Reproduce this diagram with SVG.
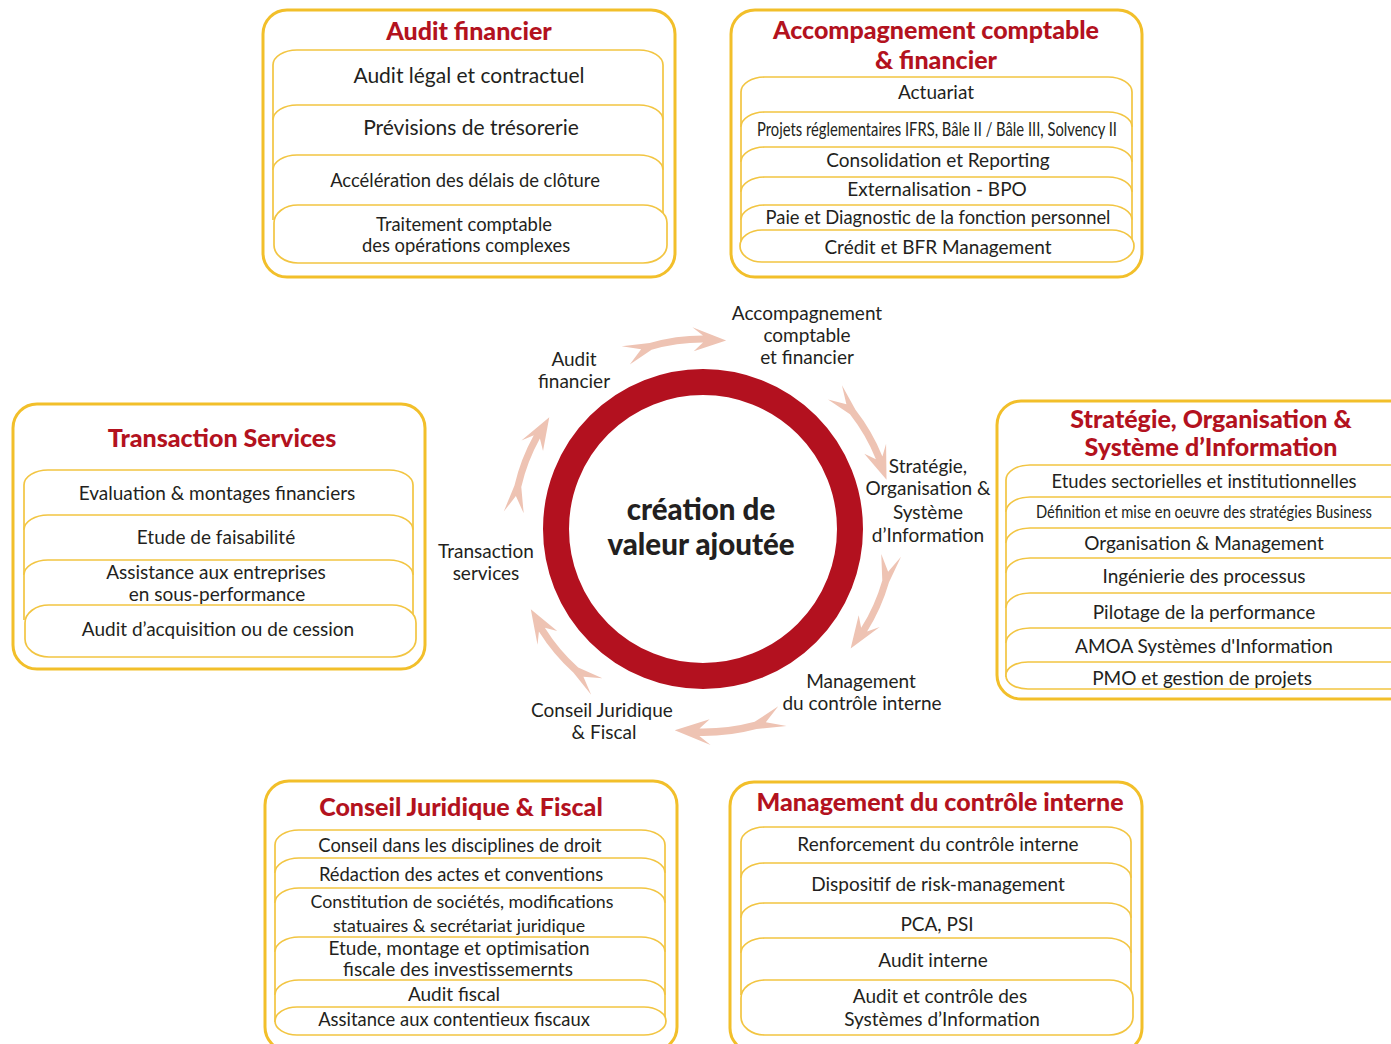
<svg xmlns="http://www.w3.org/2000/svg" xmlns:xlink="http://www.w3.org/1999/xlink" width="1391" height="1044" viewBox="0 0 1391 1044">
  <style>
    .outer { fill: #fff; stroke: #F2BF2A; stroke-width: 3; }
    .item { fill: #fff; stroke: #F2C542; stroke-width: 1.7; }
    .title { font-family: Lato, "Liberation Sans", sans-serif; font-weight: 900; font-size: 25px; fill: #B3121E; text-anchor: middle; }
    .txt { font-family: Lato, "Liberation Sans", sans-serif; font-size: 19px; fill: #231F20; text-anchor: middle; }
    .sm { font-size: 18.4px; }
    .lg { font-size: 21px; }
    .hub { font-family: Lato, "Liberation Sans", sans-serif; font-weight: 900; font-size: 29.5px; fill: #231F20; text-anchor: middle; }
    .flow { fill: #EEC3B3; }
  </style>
  <defs>
    <!-- curved arrow with a forked tail, drawn around the origin on radius 190, spanning 0..31 degrees -->
    <path id="arc-arrow" class="flow" d="M200,0 L191.62,26.93 A193.5,193.5 0 0 1 176.77,78.70 L188.59,72.39 L162.86,97.86 L166.17,63.79 L170.37,75.86 A186.5,186.5 0 0 0 184.69,25.95 L180,0 L189.28,16.56 Z"/>
  </defs>
  <rect width="1391" height="1044" fill="#fff"/>

  <!-- cycle arrows around the hub -->
  <g id="connectors">
    <use xlink:href="#arc-arrow" transform="translate(703,529) rotate(-114)"/>
    <use xlink:href="#arc-arrow" transform="translate(703,529) rotate(-46)"/>
    <use xlink:href="#arc-arrow" transform="translate(703,529) rotate(8)"/>
    <use xlink:href="#arc-arrow" transform="translate(703,529) rotate(67) scale(1.07)"/>
    <use xlink:href="#arc-arrow" transform="translate(703,529) rotate(124)"/>
    <use xlink:href="#arc-arrow" transform="translate(703,529) rotate(185)"/>
  </g>

  <!-- central hub -->
  <g id="hub">
    <circle cx="703" cy="529" r="147" fill="none" stroke="#B3111F" stroke-width="26"/>
    <text class="hub" x="701" y="520">création de</text>
    <text class="hub" x="701" y="555">valeur ajoutée</text>
  </g>

  <!-- labels around the hub -->
  <g id="ring-labels">
    <text class="txt" x="807" y="320">Accompagnement<tspan x="807" dy="22">comptable</tspan><tspan x="807" dy="22">et financier</tspan></text>
    <text class="txt" x="574" y="366">Audit<tspan x="574" dy="22">financier</tspan></text>
    <text class="txt" x="928" y="473">Stratégie,<tspan x="928" dy="22">Organisation &amp;</tspan><tspan x="928" dy="24">Système</tspan><tspan x="928" dy="23">d’Information</tspan></text>
    <text class="txt" x="486" y="558">Transaction<tspan x="486" dy="22">services</tspan></text>
    <text class="txt" x="861" y="688">Management<tspan x="862" dy="22">du contrôle interne</tspan></text>
    <text class="txt" x="602" y="717">Conseil Juridique<tspan x="604" dy="22">&amp; Fiscal</tspan></text>
  </g>

  <!-- Audit financier -->
  <g id="audit-financier">
    <rect class="outer" x="263" y="10" width="412" height="267" rx="24"/>
    <text class="title" x="469" y="40">Audit financier</text>
    <path class="item" d="M273,120 V65 A24,15 0 0 1 297,50 H639 A24,15 0 0 1 663,65 V120"/>
    <path class="item" d="M273,170 V120 A24,15 0 0 1 297,105 H639 A24,15 0 0 1 663,120 V170"/>
    <path class="item" d="M273,220 V170 A24,15 0 0 1 297,155 H639 A24,15 0 0 1 663,170 V220"/>
    <rect class="item" x="274" y="205" width="393" height="58" rx="24" ry="18"/>
    <text class="txt lg" x="469" y="83">Audit légal et contractuel</text>
    <text class="txt lg" x="471" y="135">Prévisions de trésorerie</text>
    <text class="txt sm" x="465" y="187">Accélération des délais de clôture</text>
    <text class="txt sm" x="464" y="231">Traitement comptable<tspan x="466" dy="21">des opérations complexes</tspan></text>
  </g>

  <!-- Accompagnement comptable & financier -->
  <g id="accompagnement">
    <rect class="outer" x="731" y="10" width="411" height="267" rx="24"/>
    <text class="title" x="936" y="39">Accompagnement comptable<tspan x="936" dy="30">&amp; financier</tspan></text>
    <path class="item" d="M741,127 V92 A24,15 0 0 1 765,77 H1108 A24,15 0 0 1 1132,92 V127"/>
    <path class="item" d="M741,162 V127 A24,15 0 0 1 765,112 H1108 A24,15 0 0 1 1132,127 V162"/>
    <path class="item" d="M741,192 V162 A24,15 0 0 1 765,147 H1108 A24,15 0 0 1 1132,162 V192"/>
    <path class="item" d="M741,220 V192 A24,15 0 0 1 765,177 H1108 A24,15 0 0 1 1132,192 V220"/>
    <path class="item" d="M741,245 V220 A24,15 0 0 1 765,205 H1108 A24,15 0 0 1 1132,220 V245"/>
    <rect class="item" x="740" y="230" width="394" height="32" rx="22" ry="16"/>
    <text class="txt" x="936" y="99">Actuariat</text>
    <text class="txt" x="937" y="136" textLength="360" lengthAdjust="spacingAndGlyphs">Projets réglementaires IFRS, Bâle II / Bâle III, Solvency II</text>
    <text class="txt" x="938" y="167">Consolidation et Reporting</text>
    <text class="txt" x="937" y="196">Externalisation - BPO</text>
    <text class="txt sm" x="938" y="224">Paie et Diagnostic de la fonction personnel</text>
    <text class="txt" x="938" y="254">Crédit et BFR Management</text>
  </g>

  <!-- Transaction Services -->
  <g id="transaction-services">
    <rect class="outer" x="13" y="404" width="412" height="265" rx="24"/>
    <text class="title" x="222" y="447">Transaction Services</text>
    <path class="item" d="M24,530 V485 A24,15 0 0 1 48,470 H389 A24,15 0 0 1 413,485 V530"/>
    <path class="item" d="M24,575 V530 A24,15 0 0 1 48,515 H389 A24,15 0 0 1 413,530 V575"/>
    <path class="item" d="M24,620 V575 A24,15 0 0 1 48,560 H389 A24,15 0 0 1 413,575 V620"/>
    <rect class="item" x="25" y="605" width="391" height="52" rx="24" ry="18"/>
    <text class="txt" x="217" y="500">Evaluation &amp; montages financiers</text>
    <text class="txt" x="216" y="544">Etude de faisabilité</text>
    <text class="txt" x="216" y="579">Assistance aux entreprises<tspan x="217" dy="22">en sous-performance</tspan></text>
    <text class="txt" x="218" y="636">Audit d’acquisition ou de cession</text>
  </g>

  <!-- Stratégie, Organisation & Système d'Information -->
  <g id="strategie">
    <rect class="outer" x="997" y="401" width="420" height="298" rx="24"/>
    <text class="title" x="1211" y="428">Stratégie, Organisation &amp;<tspan x="1211" dy="28">Système d’Information</tspan></text>
    <path class="item" d="M1006,512 V480 A24,15 0 0 1 1030,465 H1390 A24,15 0 0 1 1414,480 V512"/>
    <path class="item" d="M1006,543 V512 A24,15 0 0 1 1030,497 H1390 A24,15 0 0 1 1414,512 V543"/>
    <path class="item" d="M1006,573 V543 A24,15 0 0 1 1030,528 H1390 A24,15 0 0 1 1414,543 V573"/>
    <path class="item" d="M1006,608 V573 A24,15 0 0 1 1030,558 H1390 A24,15 0 0 1 1414,573 V608"/>
    <path class="item" d="M1006,643 V608 A24,15 0 0 1 1030,593 H1390 A24,15 0 0 1 1414,608 V643"/>
    <path class="item" d="M1006,677 V643 A24,15 0 0 1 1030,628 H1390 A24,15 0 0 1 1414,643 V677"/>
    <rect class="item" x="1006" y="662" width="408" height="27" rx="22" ry="13"/>
    <text class="txt sm" x="1204" y="488">Etudes sectorielles et institutionnelles</text>
    <!-- condensed line: horizontal squeeze keeps the full glyph height -->
    <text class="txt" transform="translate(1204,518) scale(0.8,1)" x="0" y="0" style="font-size:18px" textLength="420" lengthAdjust="spacingAndGlyphs">Définition et mise en oeuvre des stratégies Business</text>
    <text class="txt" x="1204" y="550">Organisation &amp; Management</text>
    <text class="txt" x="1204" y="583">Ingénierie des processus</text>
    <text class="txt" x="1204" y="619">Pilotage de la performance</text>
    <text class="txt" x="1204" y="653">AMOA Systèmes d'Information</text>
    <text class="txt" x="1202" y="685">PMO et gestion de projets</text>
  </g>

  <!-- Conseil Juridique & Fiscal -->
  <g id="conseil-juridique">
    <rect class="outer" x="265" y="781" width="412" height="270" rx="24"/>
    <text class="title" x="461" y="816">Conseil Juridique &amp; Fiscal</text>
    <path class="item" d="M275,873 V845 A24,15 0 0 1 299,830 H641 A24,15 0 0 1 665,845 V873"/>
    <path class="item" d="M275,903 V873 A24,15 0 0 1 299,858 H641 A24,15 0 0 1 665,873 V903"/>
    <path class="item" d="M275,952 V903 A24,15 0 0 1 299,888 H641 A24,15 0 0 1 665,903 V952"/>
    <path class="item" d="M275,995 V952 A24,15 0 0 1 299,937 H641 A24,15 0 0 1 665,952 V995"/>
    <path class="item" d="M275,1022 V995 A24,15 0 0 1 299,980 H641 A24,15 0 0 1 665,995 V1022"/>
    <rect class="item" x="275" y="1007" width="391" height="28" rx="22" ry="14"/>
    <text class="txt sm" x="460" y="852">Conseil dans les disciplines de droit</text>
    <text class="txt sm" x="461" y="881">Rédaction des actes et conventions</text>
    <text class="txt" x="462" y="908" style="font-size:17.8px">Constitution de sociétés, modifications<tspan x="459" dy="24">statuaires &amp; secrétariat juridique</tspan></text>
    <text class="txt" x="459" y="955">Etude, montage et optimisation<tspan x="458" dy="21">fiscale des investissemernts</tspan></text>
    <text class="txt" x="454" y="1001">Audit fiscal</text>
    <text class="txt sm" x="454" y="1026">Assitance aux contentieux fiscaux</text>
  </g>

  <!-- Management du contrôle interne -->
  <g id="controle-interne">
    <rect class="outer" x="730" y="782" width="412" height="270" rx="24"/>
    <text class="title" x="940" y="811">Management du contrôle interne</text>
    <path class="item" d="M741,878 V842 A24,15 0 0 1 765,827 H1107 A24,15 0 0 1 1131,842 V878"/>
    <path class="item" d="M741,918 V878 A24,15 0 0 1 765,863 H1107 A24,15 0 0 1 1131,878 V918"/>
    <path class="item" d="M741,953 V918 A24,15 0 0 1 765,903 H1107 A24,15 0 0 1 1131,918 V953"/>
    <path class="item" d="M741,995 V953 A24,15 0 0 1 765,938 H1107 A24,15 0 0 1 1131,953 V995"/>
    <rect class="item" x="741" y="980" width="392" height="55" rx="24" ry="18"/>
    <text class="txt" x="938" y="851">Renforcement du contrôle interne</text>
    <text class="txt" x="938" y="891">Dispositif de risk-management</text>
    <text class="txt" x="937" y="931">PCA, PSI</text>
    <text class="txt" x="933" y="967">Audit interne</text>
    <text class="txt" x="940" y="1003">Audit et contrôle des<tspan x="942" dy="23">Systèmes d’Information</tspan></text>
  </g>
</svg>
